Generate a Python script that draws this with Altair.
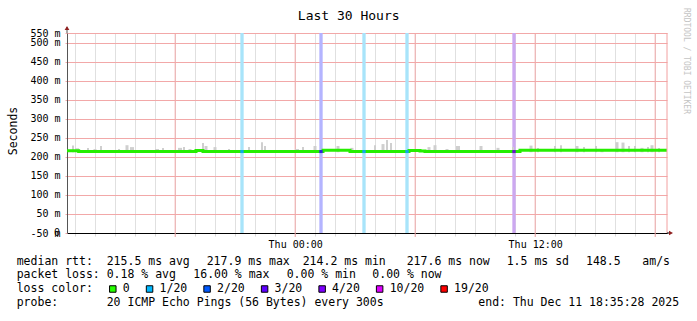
import altair as alt
import pandas as pd

# ---------------- data ----------------
START = "2025-12-10 12:35:28"
END = "2025-12-11 18:35:28"

# median RTT (step line): segment start (minutes after START) and value (ms)
median_start_min = [0, 35, 387, 408, 768, 849, 1026, 1059, 1074, 1359, 1800]
median_ms = [216.5, 214.3, 216.8, 214.3, 217.9, 214.3, 217.2, 215.5, 214.3, 217.6, 217.6]

# smoke (ping spread) spikes: centre (min after START), width (min), top (ms)
smoke_center_min = [18, 30, 63, 84, 102, 156, 180, 195, 270, 288, 339, 351, 369, 408, 417,
                    444, 486, 546, 585, 594, 690, 708, 744, 813, 855, 924, 948, 960, 972,
                    1086, 1104, 1140, 1173, 1242, 1293, 1338, 1392, 1413, 1464, 1482, 1530,
                    1551, 1587, 1605, 1650, 1668, 1686, 1704, 1725, 1743, 1755, 1776]
smoke_width_min = [6, 12, 6, 9, 6, 6, 9, 12, 12, 6, 12, 6, 9, 6, 9,
                   9, 6, 6, 6, 6, 12, 6, 9, 9, 9, 6, 9, 6, 6,
                   9, 9, 9, 12, 9, 9, 6, 9, 6, 6, 6, 9,
                   6, 6, 9, 9, 9, 6, 6, 9, 6, 9, 6]
smoke_top_ms = [230, 223, 224, 221, 229, 221, 231, 226, 221, 224, 224, 226, 221, 237, 229,
                226, 221, 226, 239, 229, 221, 226, 229, 229, 224, 231, 234, 245, 237,
                226, 231, 221, 229, 229, 224, 226, 230, 224, 229, 231, 229,
                226, 229, 221, 239, 238, 229, 229, 224, 226, 231, 224]

# packet-loss events: centre (min after START), band colour, line colour, median (ms)
loss_center_min = [525, 762, 891, 1020, 1341]
loss_band_color = ["#a8e4fa", "#b4b4ff", "#a8e4fa", "#a8e4fa", "#cca8f0"]
loss_line_color = ["#10a8f0", "#3020e0", "#10a8f0", "#10a8f0", "#6a10d0"]
loss_median_ms = [214.3, 214.3, 214.3, 214.3, 214.3]

# y-axis ticks (ms)
y_ticks_ms = [0, 50, 100, 150, 200, 250, 300, 350, 400, 450, 500]
y_top_ms = 526.3

# legend
legend_labels = ["0", "1/20", "2/20", "3/20", "4/20", "10/20", "19/20"]
legend_colors = ["#26ff00", "#00b8ff", "#0059ff", "#5e00ff", "#7e00ff", "#dd00ff", "#ff0000"]

row1 = ["median rtt:", "215.5 ms avg", "217.9 ms max", "214.2 ms min", "217.6 ms now",
        "1.5 ms sd", "148.5", "am/s"]
row2 = ["packet loss:", "0.18 % avg", "16.00 % max", "0.00 % min", "0.00 % now"]
row4 = ["probe:", "20 ICMP Echo Pings (56 Bytes) every 300s", "end: Thu Dec 11 18:35:28 2025"]

# ---------------- helpers ----------------
t0 = pd.Timestamp(START)
t_end = pd.Timestamp(END)


def ms(ts):
    return int(ts.timestamp() * 1000)


def ms_time(minutes):
    return ms(t0 + pd.Timedelta(minutes=minutes))


FONT = "DejaVu Sans Mono"
W, H = 600, 200
OX, OY = 67, 33  # plot origin in page pixels

# hourly grid positions (axis layout)
hours = pd.date_range(t0.ceil("h"), t_end.floor("h"), freq="h")
hour_ms = [ms(h) for h in hours]
major_ms = [ms(h) for h in hours if h.hour % 6 == 0]

median_df = pd.DataFrame({
    "t": [ms_time(m) for m in median_start_min],
    "v": [v / 1000 for v in median_ms],
})
smoke_df = pd.DataFrame({
    "t": [ms_time(c - w / 2) for c, w in zip(smoke_center_min, smoke_width_min)],
    "t2": [ms_time(c + w / 2) for c, w in zip(smoke_center_min, smoke_width_min)],
    "v": [0.2125] * len(smoke_center_min),
    "hi": [v / 1000 for v in smoke_top_ms],
})
loss_df = pd.DataFrame({
    "t": [ms_time(c - 5) for c in loss_center_min],
    "t2": [ms_time(c + 5) for c in loss_center_min],
    "band": loss_band_color,
    "line": loss_line_color,
    "v": [v / 1000 for v in loss_median_ms],
})

x_scale = alt.Scale(type="utc", domain=[ms_time(0), ms(t_end)], nice=False)
y_scale = alt.Scale(domain=[0, y_top_ms / 1000], nice=False, zero=False)

x_axis = alt.Axis(
    title=None,
    values=hour_ms,
    labelExpr="utchours(datum.value) % 12 == 0 ? utcFormat(datum.value, '%a %H:%M') : ''",
    grid=True, gridColor="#e0e0e0", tickColor="#d8d8d8", tickSize=3,
    domainColor="#000000",
    labelFont=FONT, labelFontSize=10, labelColor="#000000", labelPadding=3,
    labelOverlap=False, labelFlush=False,
)
y_axis = alt.Axis(
    title=None,
    values=[round(v / 1000, 4) for v in y_ticks_ms] + [y_top_ms / 1000],
    labelExpr="datum.value > 0.52 ? '550 m' : (datum.value == 0 ? '-50 m' : format(datum.value*1000, 'd') + ' m')",
    grid=True, gridColor="#f2a8a8", tickColor="#f2a8a8", tickSize=2,
    domainColor="#555555",
    labelFont=FONT, labelFontSize=10, labelColor="#000000", labelPadding=5,
    labelOverlap=False, labelFlush=False,
)

X = alt.X("t:T", scale=x_scale, axis=x_axis)
Y = alt.Y("v:Q", scale=y_scale, axis=y_axis)

major_rules = alt.Chart(pd.DataFrame({"t": major_ms})).mark_rule(color="#f2a8a8").encode(
    x=X, y=alt.value(0), y2=alt.value(H + 4))
bands = alt.Chart(loss_df).mark_rect().encode(
    x=X, x2="t2:T",
    color=alt.Color("band:N", scale=None),
)
smoke = alt.Chart(smoke_df).mark_rect(color="#cfcfcf").encode(
    x=X, x2="t2:T", y=Y, y2="hi:Q",
)
line = alt.Chart(median_df).mark_line(interpolate="step-after", color="#26ee00", strokeWidth=3).encode(
    x=X, y=Y,
)
loss_line = alt.Chart(loss_df).mark_rule(strokeWidth=3).encode(
    x=X, x2="t2:T", y=Y,
    color=alt.Color("line:N", scale=None),
)
now_rule = alt.Chart(pd.DataFrame({"t": [ms(t_end)]})).mark_rule(
    color="#f2a0a0").encode(x=X, y=alt.value(0), y2=alt.value(H))
zero_lbl = alt.Chart(pd.DataFrame({"v": [0.0]})).mark_text(
    font=FONT, fontSize=10, align="right", baseline="middle", color="#000000").encode(
    x=alt.value(-7), y=Y, text=alt.value("0"))

one = pd.DataFrame({"k": [0]})


def text(s, px, py, size=11.5, align="left", angle=0, color="#000000", baseline="middle"):
    return alt.Chart(one).mark_text(font=FONT, fontSize=size, align=align, baseline=baseline,
                                    angle=angle, color=color).encode(
        x=alt.value(px - OX), y=alt.value(py - OY), text=alt.value(s))


deco = []
# arrows and axis extensions
deco.append(alt.Chart(one).mark_rule(color="#555555").encode(
    x=alt.value(0), y=alt.value(-6), y2=alt.value(0)))
deco.append(alt.Chart(one).mark_point(shape="triangle-up", filled=True, size=22, color="#902020", opacity=1).encode(
    x=alt.value(0), y=alt.value(-5)))
deco.append(alt.Chart(one).mark_rule(color="#000000").encode(
    x=alt.value(W), x2=alt.value(W + 3), y=alt.value(H)))
deco.append(alt.Chart(one).mark_point(shape="triangle-right", filled=True, size=22, color="#902020", opacity=1).encode(
    x=alt.value(W + 4), y=alt.value(H)))

deco.append(text("Last 30 Hours", 348.7, 16, size=13, align="center"))
deco.append(text("Seconds", 14, 131, size=11.5, align="center", angle=270))
deco.append(text("RRDTOOL / TOBI OETIKER", 686, 61, size=8, align="center", angle=90, color="#c4c4c4"))

row1_x = [16.7, 106.7, 206.7, 302.7, 406.7, 506.7, 586, 642.3]
for s, px in zip(row1, row1_x):
    deco.append(text(s, px, 261.7))
row2_x = [16.7, 106.7, 193.3, 286.7, 372.3]
for s, px in zip(row2, row2_x):
    deco.append(text(s, px, 275))
deco.append(text("loss color:", 16.7, 289))
bx = 109.3
for lab, col in zip(legend_labels, legend_colors):
    deco.append(alt.Chart(one).mark_point(shape="square", filled=True, size=42, fill=col,
                                          stroke="#000000", strokeWidth=1, opacity=1).encode(
        x=alt.value(bx + 3.5 - OX), y=alt.value(289 - OY)))
    deco.append(text(lab, bx + 13.5, 289))
    bx += 14 + (len(lab) + 2) * 6.92 + 2
row4_x = [16.7, 106.7, 478.3]
for s, px in zip(row4, row4_x):
    deco.append(text(s, px, 302.7))

chart = alt.layer(major_rules, bands, smoke, line, loss_line, now_rule, zero_lbl, *deco).properties(
    width=W, height=H,
    autosize=alt.AutoSizeParams(type="none"),
    padding={"left": OX, "top": OY, "right": 697 - OX - W, "bottom": 321 - OY - H},
    background="#ffffff",
).configure_view(stroke=None)

chart.save("out.html", embed_options={"renderer": "svg", "actions": False})
